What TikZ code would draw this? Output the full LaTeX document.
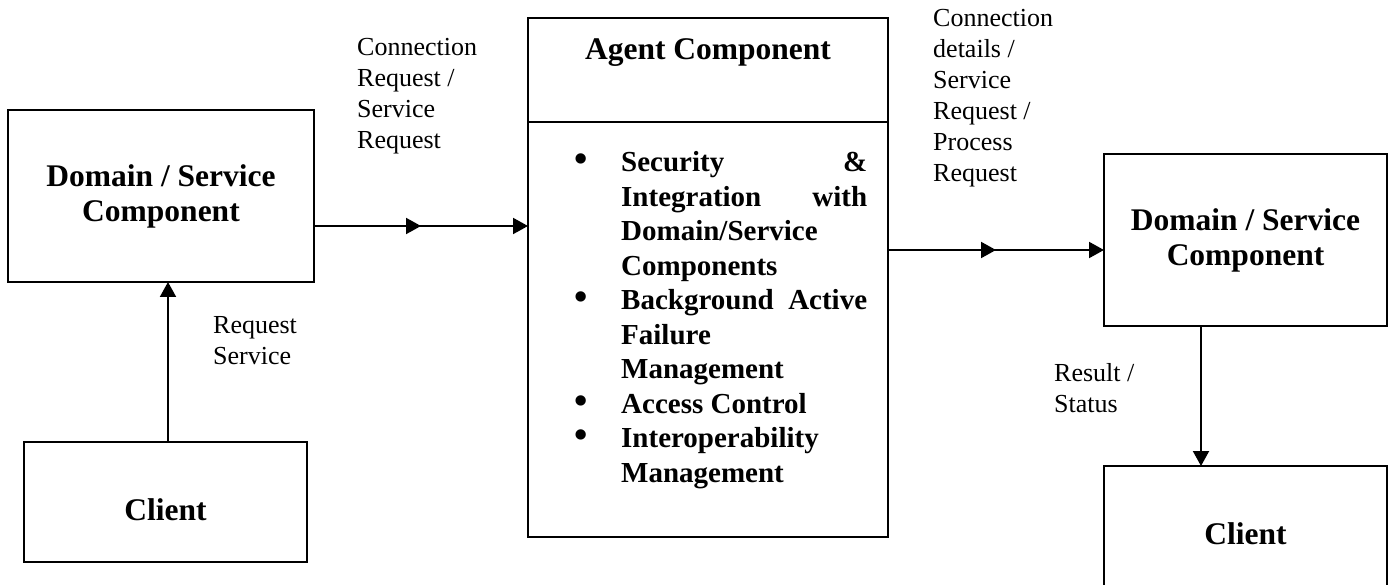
\documentclass[tikz,border=0pt]{standalone}
\usepackage{fontspec}
\setmainfont{Liberation Serif}
\usetikzlibrary{arrows.meta,decorations.markings}

\begin{document}
\begin{tikzpicture}[x=1pt,y=-1pt,
  box/.style={draw, line width=2.2pt, rectangle, inner sep=0pt, outer sep=0pt},
  head/.style={font=\bfseries\fontsize{31.5}{35}\selectfont, align=center, inner sep=0pt},
  lbl/.style={font=\fontsize{26}{31}\selectfont, align=left, anchor=west, inner sep=0pt},
  tip/.tip={Triangle[length=15pt,width=16pt]},
  arr/.style={line width=2pt, -tip},
  midarr/.style={postaction={decorate},
    decoration={markings, mark=at position 0.5 with {\arrow{tip}}}}
]
\useasboundingbox (0,0) rectangle (1392,585);
\clip (0,0) rectangle (1392,585);
\fill[white] (0,0) rectangle (1392,585);

% left column: requesting client and its domain/service component
\node[box, minimum width=306pt, minimum height=172pt, head] (dom1) at (161,196)
  {Domain / Service\\Component};
\node[box, minimum width=283pt, minimum height=120pt] (cl1) at (165.5,502) {};
\node[head] (cl1t) at ([yshift=-68pt]cl1.north) {Client};

% agent component with its responsibilities
\node[box, minimum width=360pt, minimum height=519pt] (ag) at (708,277.5) {};
\node[head] (agt) at ([yshift=-35pt]ag.north) {Agent Component};
\draw[line width=2.2pt] ([yshift=-104pt]ag.north west) -- ([yshift=-104pt]ag.north east);
\node[anchor=north west, inner sep=0pt,
      font=\bfseries\fontsize{29}{34.5}\selectfont] (list) at (574,147.4) {%
  \begin{tabular}{@{}p{47pt}@{}p{246pt}@{}}
  {\fontsize{38}{34.5}\selectfont\textbullet} & Security \hfill \&\newline Integration \hfill with\newline Domain/Service\newline Components\\
  {\fontsize{38}{34.5}\selectfont\textbullet} & Background\hfill Active\newline Failure\newline Management\\
  {\fontsize{38}{34.5}\selectfont\textbullet} & Access Control\\
  {\fontsize{38}{34.5}\selectfont\textbullet} & Interoperability\newline Management
  \end{tabular}};

% right column: serving component and the client receiving the result
\node[box, minimum width=283pt, minimum height=172pt, head] (dom2) at (1245.5,240)
  {Domain / Service\\Component};
\node[box, minimum width=283pt, minimum height=160pt] (cl2) at (1245.5,546) {};
\node[head] (cl2t) at ([yshift=-68pt]cl2.north) {Client};

% connectors
\draw[arr] ([xshift=2.5pt]cl1.north) -- ([xshift=2.5pt]cl1.north |- dom1.south);
\draw[arr, midarr] ([yshift=-30pt]dom1.east) -- ([yshift=-30pt]dom1.east -| ag.west);
\draw[arr, midarr] ([yshift=-10pt]dom2.west -| ag.east) -- ([yshift=-10pt]dom2.west);
\draw[arr] ([xshift=-44.5pt]dom2.south) -- ([xshift=-44.5pt]dom2.south |- cl2.north);

% connector labels
\node[lbl] (l1) at (357,96) {Connection\\Request /\\Service\\Request};
\node[lbl] (l2) at (213,340.5) {Request\\Service};
\node[lbl] (l3) at (933,98) {Connection\\details /\\Service\\Request /\\Process\\Request};
\node[lbl] (l4) at (1054,388) {Result /\\Status};
\end{tikzpicture}
\end{document}
